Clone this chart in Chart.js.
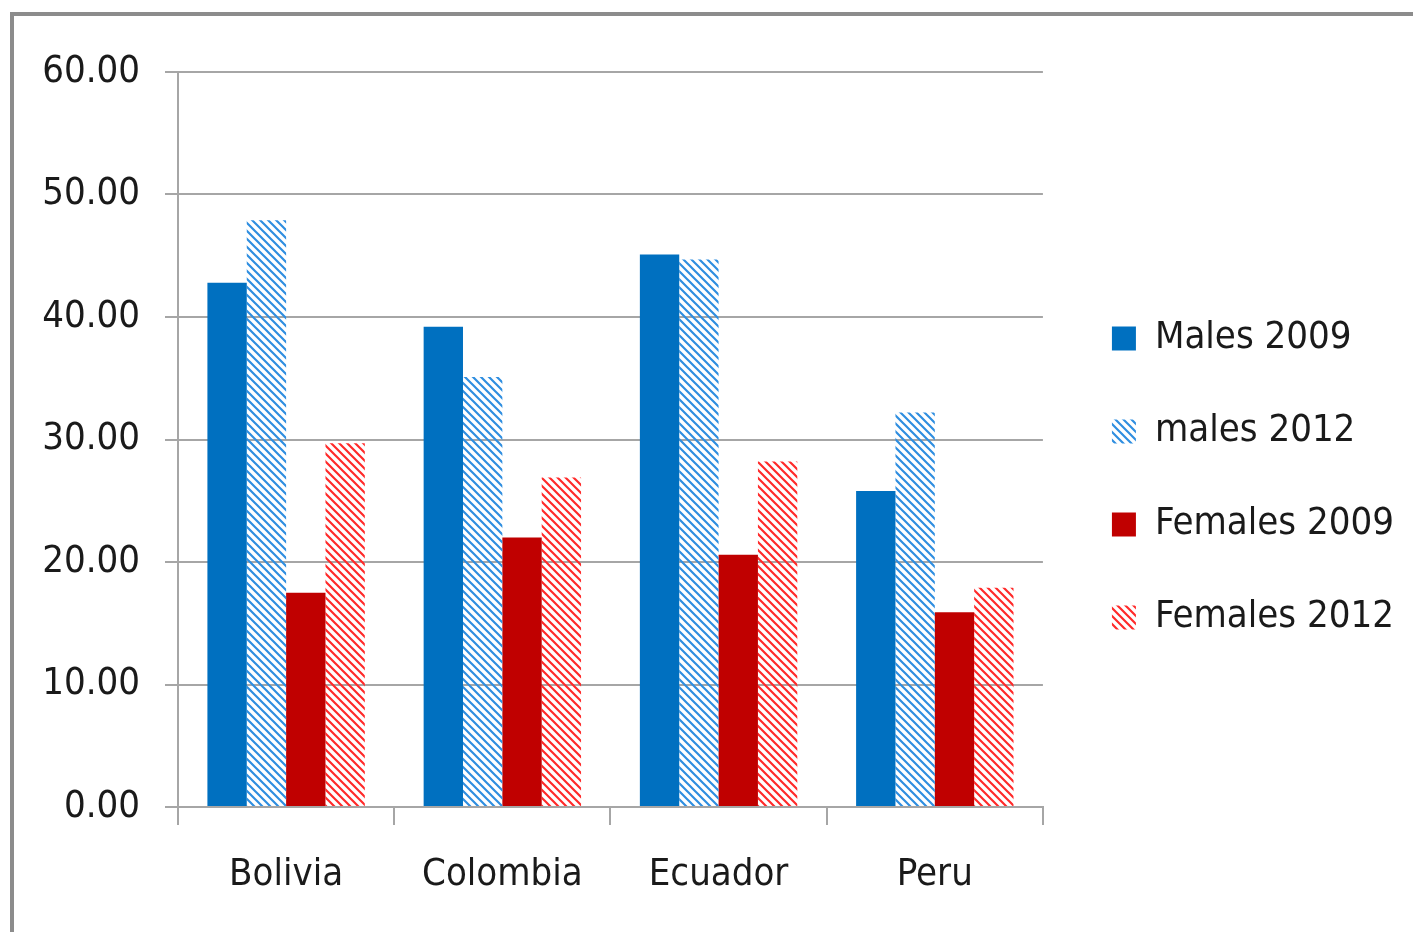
<!DOCTYPE html>
<html><head><meta charset="utf-8">
<script src="https://cdn.jsdelivr.net/npm/chart.js@4"></script>
<style>
html,body{margin:0;padding:0;background:#fff;overflow:hidden;}
#wrap{position:relative;width:1413px;height:932px;}
#frame{position:absolute;left:10px;top:12px;width:1420px;height:940px;border-top:4px solid #8c8c8c;border-left:4px solid #8c8c8c;}
canvas{position:absolute;left:0;top:0;}
</style></head><body>
<div id="wrap"><div id="frame"></div><canvas id="c" width="1413" height="932" style="width:1413px;height:932px"></canvas></div>
<script>
const categories = ['Bolivia', 'Colombia', 'Ecuador', 'Peru'];
const seriesLabels = ['Males 2009', 'males 2012', 'Females 2009', 'Females 2012'];
const males2009 = [42.8, 39.2, 45.1, 25.8];
const males2012 = [47.9, 35.1, 44.7, 32.2];
const females2009 = [17.5, 22.0, 20.6, 15.9];
const females2012 = [29.7, 26.9, 28.2, 17.9];
const yTickValues = [0, 10, 20, 30, 40, 50, 60];

const FONT = "'Liberation Sans Narrow', 'DejaVu Sans Condensed', sans-serif";
const FS = 38;

function hatch(color) {
  const s = 8;
  const c = document.createElement('canvas');
  c.width = s; c.height = s;
  const g = c.getContext('2d');
  g.strokeStyle = color;
  g.lineWidth = 2.2;
  g.beginPath();
  g.moveTo(-2, -2); g.lineTo(s + 2, s + 2);
  g.moveTo(-2 - s, -2); g.lineTo(2, s + 2);
  g.moveTo(s - 2, -2); g.lineTo(2 * s + 2, s + 2);
  g.stroke();
  return g.createPattern(c, 'repeat');
}

const ctx = document.getElementById('c').getContext('2d');
const PLOT_LEFT = 178, PLOT_BOTTOM = 807;

const legendShift = {
  id: 'legendShift',
  afterLayout(chart) {
    const lg = chart.legend;
    if (!lg) return;
    const dx = 14, dy = -24;
    lg.left += dx; lg.right += dx;
    lg.top += dy; lg.bottom += dy;
  }
};

new Chart(ctx, {
  type: 'bar',
  data: {
    labels: categories,
    datasets: [
      { label: seriesLabels[0], data: males2009, backgroundColor: '#0070c0' },
      { label: seriesLabels[1], data: males2012, backgroundColor: hatch('#2f8ee0') },
      { label: seriesLabels[2], data: females2009, backgroundColor: '#c00000' },
      { label: seriesLabels[3], data: females2012, backgroundColor: hatch('#ff2a2a') }
    ]
  },
  plugins: [legendShift],
  options: {
    responsive: false,
    animation: false,
    layout: { padding: { left: 0, top: 72, right: 23, bottom: 0 } },
    datasets: { bar: { barPercentage: 1.0, categoryPercentage: 0.728, borderWidth: 0 } },
    plugins: {
      tooltip: { enabled: false },
      legend: {
        position: 'right',
        align: 'center',
        labels: {
          font: { family: FONT, size: FS },
          color: '#1a1a1a',
          boxWidth: 24,
          boxHeight: 24,
          padding: 55
        }
      }
    },
    scales: {
      x: {
        afterFit: s => { s.height = 932 - PLOT_BOTTOM; },
        grid: { offset: true, drawOnChartArea: false, drawTicks: true, tickLength: 18, color: '#a6a6a6', lineWidth: 2 },
        border: { display: true, color: '#a6a6a6', width: 2 },
        ticks: { font: { family: FONT, size: FS }, color: '#1a1a1a', padding: 27 }
      },
      y: {
        min: 0, max: 60,
        afterBuildTicks: s => { s.ticks = yTickValues.map(v => ({ value: v })); },
        afterFit: s => { s.width = PLOT_LEFT; },
        grid: { color: '#a6a6a6', lineWidth: 2, tickLength: 13, drawTicks: true },
        border: { display: true, color: '#a6a6a6', width: 2 },
        ticks: { font: { family: FONT, size: FS }, color: '#1a1a1a', padding: 25, callback: v => Number(v).toFixed(2) }
      }
    }
  }
});
</script>
</body></html>
